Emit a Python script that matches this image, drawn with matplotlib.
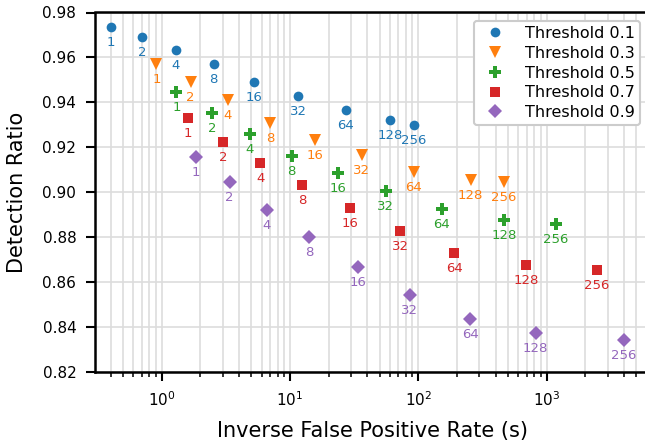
import matplotlib
matplotlib.use('Agg')
import matplotlib.pyplot as plt

# number of stacked frames shown under each point
frames = [1, 2, 4, 8, 16, 32, 64, 128, 256]

thresholds = ['Threshold 0.1', 'Threshold 0.3', 'Threshold 0.5', 'Threshold 0.7', 'Threshold 0.9']

# inverse false positive rate (s)
ifpr_01 = [0.40, 0.70, 1.29, 2.54, 5.27, 11.6, 27.3, 60.5, 92.6]
ifpr_03 = [0.91, 1.68, 3.29, 6.98, 15.7, 36.2, 92.1, 256, 463]
ifpr_05 = [1.30, 2.47, 4.88, 10.3, 23.5, 56.0, 152, 468, 1183]
ifpr_07 = [1.61, 3.02, 5.87, 12.5, 29.2, 72.0, 191, 695, 2455]
ifpr_09 = [1.86, 3.39, 6.58, 14.1, 33.7, 86.1, 254, 822, 4010]

# detection ratio
det_01 = [0.9734, 0.9690, 0.9634, 0.9572, 0.9491, 0.9430, 0.9365, 0.9320, 0.9299]
det_03 = [0.9571, 0.9492, 0.9409, 0.9310, 0.9234, 0.9164, 0.9092, 0.9055, 0.9047]
det_05 = [0.9448, 0.9351, 0.9260, 0.9163, 0.9087, 0.9006, 0.8924, 0.8877, 0.8860]
det_07 = [0.9331, 0.9225, 0.9129, 0.9031, 0.8931, 0.8826, 0.8728, 0.8678, 0.8653]
det_09 = [0.9156, 0.9044, 0.8922, 0.8800, 0.8667, 0.8543, 0.8437, 0.8372, 0.8343]

xs = [ifpr_01, ifpr_03, ifpr_05, ifpr_07, ifpr_09]
ys = [det_01, det_03, det_05, det_07, det_09]
markers = ['o', 'v', 'P', 's', 'D']
colors = ['#1f77b4', '#ff7f0e', '#2ca02c', '#d62728', '#9467bd']
sizes = [7, 8, 8, 7, 7.5]

plt.rcParams['font.family'] = 'DejaVu Sans'

fig = plt.figure(figsize=(6.45, 4.43), dpi=100)
ax = fig.add_axes([95 / 645, 71 / 443, 555 / 645, 359.5 / 443])

for x, y, m, c, s, lab in zip(xs, ys, markers, colors, sizes, thresholds):
    ax.plot(x, y, marker=m, color=c, linestyle='none', markersize=s,
            markeredgewidth=0, label=lab, zorder=3)
    for xi, yi, f in zip(x, y, frames):
        ax.annotate(str(f), (xi, yi), xytext=(0, -6.5), textcoords='offset points',
                    ha='center', va='top', fontsize=9.5, color=c)

ax.set_xscale('log')
ax.set_xlim(0.302, 6400)
ax.set_ylim(0.82, 0.98)
ax.set_yticks([0.82, 0.84, 0.86, 0.88, 0.90, 0.92, 0.94, 0.96, 0.98])

ax.grid(True, which='both', axis='x', color='#dddddd', linewidth=1.2, zorder=0)
ax.grid(True, which='major', axis='y', color='#dddddd', linewidth=1.2, zorder=0)
ax.set_axisbelow(True)

for side in ['left', 'bottom', 'top']:
    ax.spines[side].set_linewidth(1.8)
ax.spines['right'].set_visible(False)

ax.tick_params(which='major', length=6.5, width=1.5, pad=7, labelsize=11)
ax.tick_params(which='minor', length=3.5, width=1.1)

ax.set_xlabel('Inverse False Positive Rate (s)', fontsize=15, labelpad=8)
ax.set_ylabel('Detection Ratio', fontsize=15, labelpad=11)

leg = ax.legend(loc='upper right', bbox_to_anchor=(0.982, 0.976), borderaxespad=0,
                numpoints=1, fontsize=11.5, handletextpad=0.9, borderpad=0.3,
                labelspacing=0.3, framealpha=1, edgecolor='#cccccc', fancybox=True)
leg.get_frame().set_linewidth(1.5)

fig.savefig('out.png', dpi=100)
